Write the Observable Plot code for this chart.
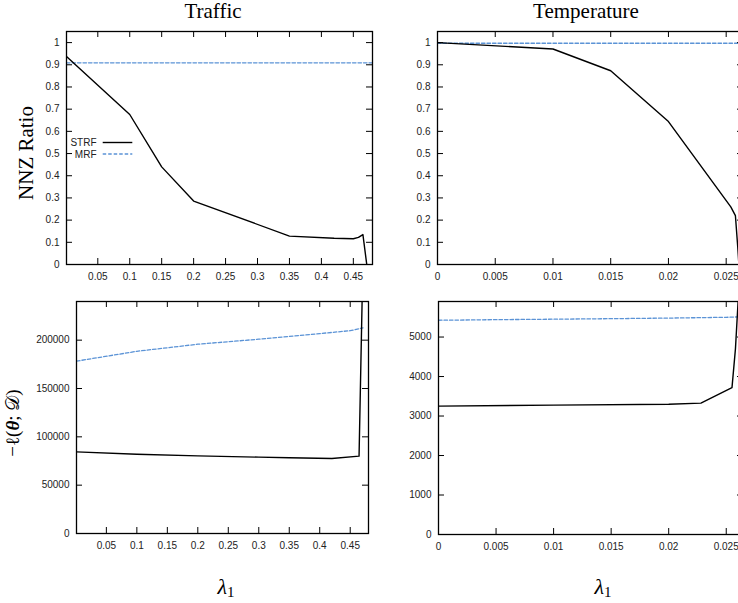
<!DOCTYPE html>
<html>
<head>
<meta charset="utf-8">
<script src="https://cdn.jsdelivr.net/npm/d3@7"></script>
<script src="https://cdn.jsdelivr.net/npm/@observablehq/plot@0.6"></script>
<style>
  html, body { margin: 0; padding: 0; background: #fff; overflow: hidden; }
  #root { position: relative; width: 738px; height: 603px; overflow: hidden; background: #fff; }
  .abs { position: absolute; white-space: nowrap; }
  .title { font-family: "Liberation Serif", "DejaVu Serif", serif; font-size: 21px; color: #000; transform: translate(-50%, 0); }
  .ylab { font-family: "Liberation Serif", "DejaVu Serif", serif; color: #000; transform: translate(-50%, -50%) rotate(-90deg); }
  .lam { font-family: "Liberation Serif", "DejaVu Serif", serif; font-size: 22px; font-style: italic; color: #000; transform: translate(-50%, 0); }
  .lam sub { font-style: normal; font-size: 15px; vertical-align: -3px; }
</style>
</head>
<body>
<div id="root"></div>
<script>
// ---------- data ----------
const titles = ["Traffic", "Temperature"];
const seriesNames = ["STRF", "MRF"];
const seriesColors = ["#000000", "#5b93d6"];

// Traffic – NNZ ratio
const trafficNnzStrfX = [0.001, 0.1, 0.15, 0.2, 0.35, 0.42, 0.45, 0.458, 0.465, 0.471];
const trafficNnzStrfY = [0.937, 0.676, 0.44, 0.286, 0.128, 0.118, 0.116, 0.122, 0.135, 0];
const trafficNnzMrfX = [0.001, 0.1, 0.2, 0.3, 0.4, 0.48];
const trafficNnzMrfY = [0.909, 0.909, 0.909, 0.909, 0.909, 0.909];

// Temperature – NNZ ratio
const tempNnzStrfX = [0, 0.01, 0.015, 0.02, 0.0254, 0.0258, 0.026, 0.0261];
const tempNnzStrfY = [1.0, 0.971, 0.873, 0.644, 0.26, 0.22, 0.08, 0];
const tempNnzMrfX = [0, 0.005, 0.01, 0.015, 0.02, 0.025, 0.0265];
const tempNnzMrfY = [0.997, 0.997, 0.997, 0.997, 0.997, 0.997, 0.997];

// Traffic – negative log-likelihood
const trafficLlStrfX = [0.001, 0.1, 0.2, 0.3, 0.35, 0.42, 0.4645, 0.471];
const trafficLlStrfY = [84400, 82000, 80300, 79000, 78300, 77600, 80000, 288000];
const trafficLlMrfX = [0.001, 0.1, 0.2, 0.3, 0.4, 0.45, 0.471];
const trafficLlMrfY = [178300, 188500, 195800, 201000, 206800, 209800, 212700];

// Temperature – negative log-likelihood
const tempLlStrfX = [0, 0.01, 0.02, 0.0228, 0.0255, 0.0258, 0.02605];
const tempLlStrfY = [3250, 3275, 3300, 3326, 3720, 4700, 6000];
const tempLlMrfX = [0, 0.005, 0.01, 0.015, 0.02, 0.025, 0.0265];
const tempLlMrfY = [5425, 5440, 5452, 5465, 5480, 5500, 5513];

// ticks
const trafficXTicks = [0.05, 0.1, 0.15, 0.2, 0.25, 0.3, 0.35, 0.4, 0.45];
const tempXTicks = [0, 0.005, 0.01, 0.015, 0.02, 0.025];
const nnzYTicks = [0, 0.1, 0.2, 0.3, 0.4, 0.5, 0.6, 0.7, 0.8, 0.9, 1];
const trafficLlYTicks = [0, 50000, 100000, 150000, 200000];
const tempLlYTicks = [0, 1000, 2000, 3000, 4000, 5000];

const trafficXDomain = [0.001, 0.48];
const tempXDomain = [0, 0.0265];
const nnzYDomain = [0, 1.05];
const trafficLlYDomain = [0, 240000];
const tempLlYDomain = [0, 5900];

// ---------- helpers ----------
function zipSeries(name, xs, ys) { return xs.map((x, i) => ({series: name, x, y: ys[i]})); }

function panel(cfg) {
  const {left, top, width, height, ml, mr, mt, mb, xDomain, yDomain, xTicks, yTicks, strf, mrf} = cfg;
  const iw = width - ml - mr, ih = height - mt - mb, tl = 6;
  const data = [...strf, ...mrf];
  const p = Plot.plot({
    width, height, marginLeft: ml, marginRight: mr, marginTop: mt, marginBottom: mb,
    style: {fontFamily: "'Liberation Sans', Arial, sans-serif", fontSize: "10px", color: "#222", background: "transparent", overflow: "visible"},
    x: {domain: xDomain},
    y: {domain: yDomain},
    marks: [
      Plot.line(mrf, {x: "x", y: "y", stroke: seriesColors[1], strokeWidth: 1.3, strokeDasharray: "3.5,2", clip: true}),
      Plot.line(strf, {x: "x", y: "y", stroke: seriesColors[0], strokeWidth: 1.4, clip: true}),
      Plot.tickX(xTicks, {x: d => d, insetTop: ih - tl, stroke: "#000", strokeWidth: 1}),
      Plot.tickX(xTicks, {x: d => d, insetBottom: ih - tl, stroke: "#000", strokeWidth: 1}),
      Plot.tickY(yTicks, {y: d => d, insetRight: iw - tl, stroke: "#000", strokeWidth: 1}),
      Plot.tickY(yTicks, {y: d => d, insetLeft: iw - tl, stroke: "#000", strokeWidth: 1}),
      Plot.axisX({ticks: xTicks, tickSize: 0, tickPadding: 8, tickFormat: d => String(d), label: null}),
      Plot.axisY({ticks: yTicks, tickSize: 0, tickPadding: 7, tickFormat: d => String(d), label: null}),
      Plot.frame({stroke: "#000", strokeWidth: 1.3})
    ]
  });
  p.style.position = "absolute";
  p.style.left = left + "px";
  p.style.top = top + "px";
  return p;
}

const root = document.getElementById("root");

root.appendChild(panel({left: 0, top: 0, width: 380, height: 290, ml: 66, mr: 8, mt: 31, mb: 26,
  xDomain: trafficXDomain, yDomain: nnzYDomain, xTicks: trafficXTicks, yTicks: nnzYTicks,
  strf: zipSeries("STRF", trafficNnzStrfX, trafficNnzStrfY), mrf: zipSeries("MRF", trafficNnzMrfX, trafficNnzMrfY)}));

root.appendChild(panel({left: 380, top: 0, width: 380, height: 290, ml: 57, mr: 17, mt: 31, mb: 26,
  xDomain: tempXDomain, yDomain: nnzYDomain, xTicks: tempXTicks, yTicks: nnzYTicks,
  strf: zipSeries("STRF", tempNnzStrfX, tempNnzStrfY), mrf: zipSeries("MRF", tempNnzMrfX, tempNnzMrfY)}));

root.appendChild(panel({left: 0, top: 290, width: 380, height: 290, ml: 76, mr: 12, mt: 11, mb: 47,
  xDomain: trafficXDomain, yDomain: trafficLlYDomain, xTicks: trafficXTicks, yTicks: trafficLlYTicks,
  strf: zipSeries("STRF", trafficLlStrfX, trafficLlStrfY), mrf: zipSeries("MRF", trafficLlMrfX, trafficLlMrfY)}));

root.appendChild(panel({left: 380, top: 290, width: 380, height: 290, ml: 58, mr: 17, mt: 11, mb: 46,
  xDomain: tempXDomain, yDomain: tempLlYDomain, xTicks: tempXTicks, yTicks: tempLlYTicks,
  strf: zipSeries("STRF", tempLlStrfX, tempLlStrfY), mrf: zipSeries("MRF", tempLlMrfX, tempLlMrfY)}));

// ---------- text ----------
function addDiv(cls, html, left, top, extra) {
  const d = document.createElement("div");
  d.className = "abs " + cls;
  d.innerHTML = html;
  d.style.left = left + "px";
  d.style.top = top + "px";
  if (extra) Object.assign(d.style, extra);
  root.appendChild(d);
}
addDiv("title", titles[0], 213, -1);
addDiv("title", titles[1], 586, -1);
addDiv("ylab", "NNZ Ratio", 26, 153, {fontSize: "21px"});
addDiv("ylab", "−ℓ(<b><i>θ</i></b>; 𝒟)", 13, 423, {fontSize: "19px"});
addDiv("lam", "λ<sub>1</sub>", 226, 574);
addDiv("lam", "λ<sub>1</sub>", 603, 574);

// legend
const ns = "http://www.w3.org/2000/svg";
const leg = document.createElementNS(ns, "svg");
leg.setAttribute("width", 80); leg.setAttribute("height", 30);
leg.style.position = "absolute"; leg.style.left = "60px"; leg.style.top = "135px";
seriesNames.forEach((name, i) => {
  const yy = 7.5 + i * 11.5;
  const t = document.createElementNS(ns, "text");
  t.setAttribute("x", 36.5); t.setAttribute("y", yy + 3.6);
  t.setAttribute("text-anchor", "end");
  t.setAttribute("font-family", "'Liberation Sans', Arial, sans-serif");
  t.setAttribute("font-size", "10"); t.setAttribute("fill", "#222");
  t.textContent = name;
  leg.appendChild(t);
  const l = document.createElementNS(ns, "line");
  l.setAttribute("x1", 42.7); l.setAttribute("x2", 72.3);
  l.setAttribute("y1", yy); l.setAttribute("y2", yy);
  l.setAttribute("stroke", seriesColors[i]);
  l.setAttribute("stroke-width", i === 0 ? 1.4 : 1.3);
  if (i === 1) l.setAttribute("stroke-dasharray", "3.5,2");
  leg.appendChild(l);
});
root.appendChild(leg);
</script>
</body>
</html>
